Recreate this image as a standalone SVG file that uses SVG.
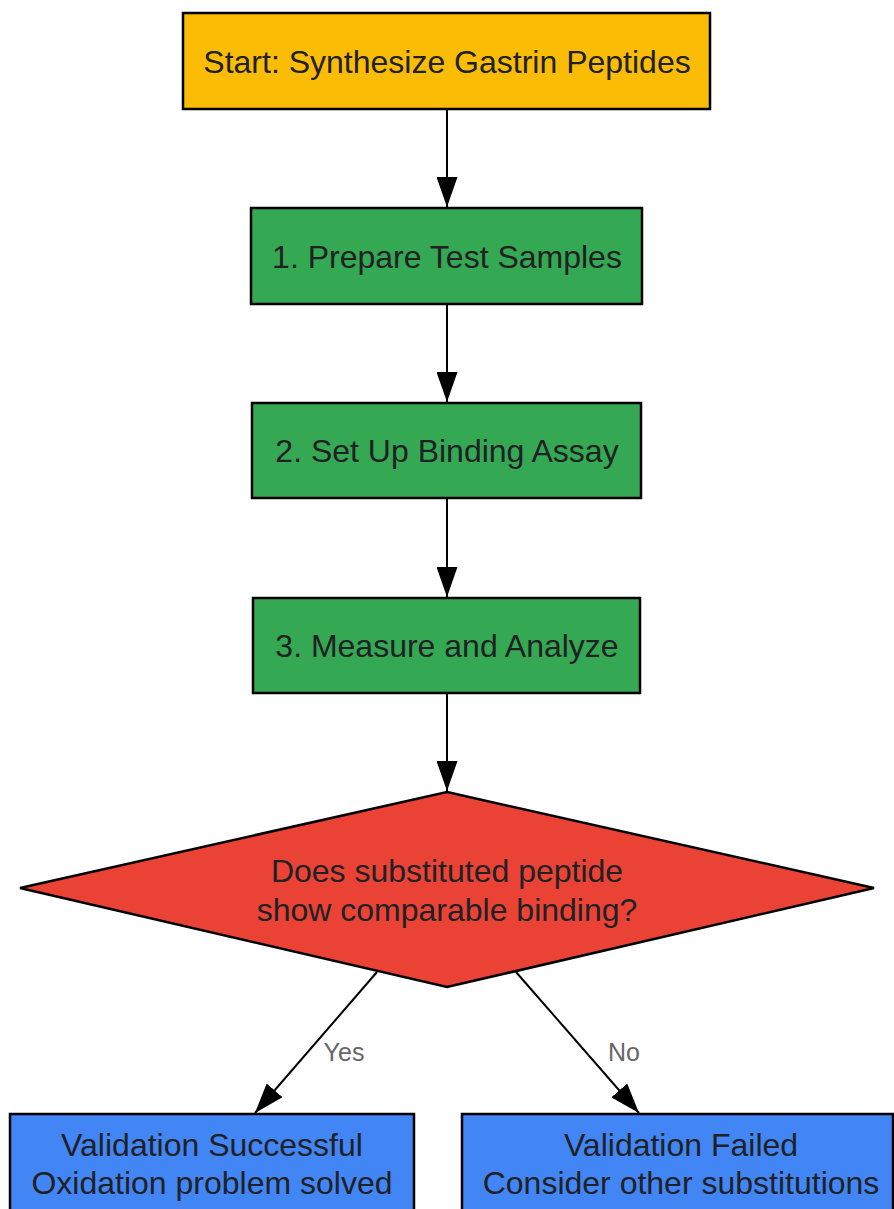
<svg xmlns="http://www.w3.org/2000/svg" width="894" height="1209" viewBox="0 0 894 1209">
<defs>
<style>
.n{stroke:#000;stroke-width:2.5}
.t{font-family:"Liberation Sans",Arial,sans-serif;font-size:32px;fill:#202124;text-anchor:middle}
.e{stroke:#000;stroke-width:2;fill:none}
.l{font-family:"Liberation Sans",Arial,sans-serif;font-size:25px;fill:#666;text-anchor:middle}
</style>
<marker id="a" viewBox="0 0 30 21" refX="30" refY="10.5" markerWidth="30" markerHeight="21" markerUnits="userSpaceOnUse" orient="auto">
<path d="M0,0 L30,10.5 L0,21 z" fill="#000"/>
</marker>
</defs>
<rect width="894" height="1209" fill="#fff"/>
<g id="edges">
<line class="e" x1="447" y1="109" x2="447" y2="207" marker-end="url(#a)"/>
<line class="e" x1="447" y1="304" x2="447" y2="402" marker-end="url(#a)"/>
<line class="e" x1="447" y1="498" x2="447" y2="597" marker-end="url(#a)"/>
<line class="e" x1="447" y1="693" x2="447" y2="791" marker-end="url(#a)"/>
<line class="e" x1="377" y1="972" x2="255" y2="1113" marker-end="url(#a)"/>
<line class="e" x1="516" y1="972" x2="639" y2="1113" marker-end="url(#a)"/>
<text class="l" x="344" y="1061">Yes</text>
<text class="l" x="624" y="1061">No</text>
</g>
<g id="start">
<rect class="n" x="183" y="13" width="527" height="96" fill="#FBBC05"/>
<text class="t" x="447" y="73">Start: Synthesize Gastrin Peptides</text>
</g>
<g id="step1">
<rect class="n" x="251" y="208" width="391" height="96" fill="#34A853"/>
<text class="t" x="447" y="268">1. Prepare Test Samples</text>
</g>
<g id="step2">
<rect class="n" x="252" y="403" width="389" height="95" fill="#34A853"/>
<text class="t" x="447" y="462">2. Set Up Binding Assay</text>
</g>
<g id="step3">
<rect class="n" x="253" y="598" width="387" height="95" fill="#34A853"/>
<text class="t" x="447" y="657">3. Measure and Analyze</text>
</g>
<g id="decision">
<polygon class="n" points="447,792 874,888 447,987 20,888" fill="#EA4335"/>
<text class="t" x="447" y="882">Does substituted peptide</text>
<text class="t" x="447" y="921">show comparable binding?</text>
</g>
<g id="success">
<rect class="n" x="10" y="1114" width="404" height="110" fill="#4285F4"/>
<text class="t" x="212" y="1156">Validation Successful</text>
<text class="t" x="212" y="1194">Oxidation problem solved</text>
</g>
<g id="failed">
<rect class="n" x="462" y="1114" width="431" height="110" fill="#4285F4"/>
<text class="t" x="681" y="1156">Validation Failed</text>
<text class="t" x="681" y="1194">Consider other substitutions</text>
</g>
</svg>
